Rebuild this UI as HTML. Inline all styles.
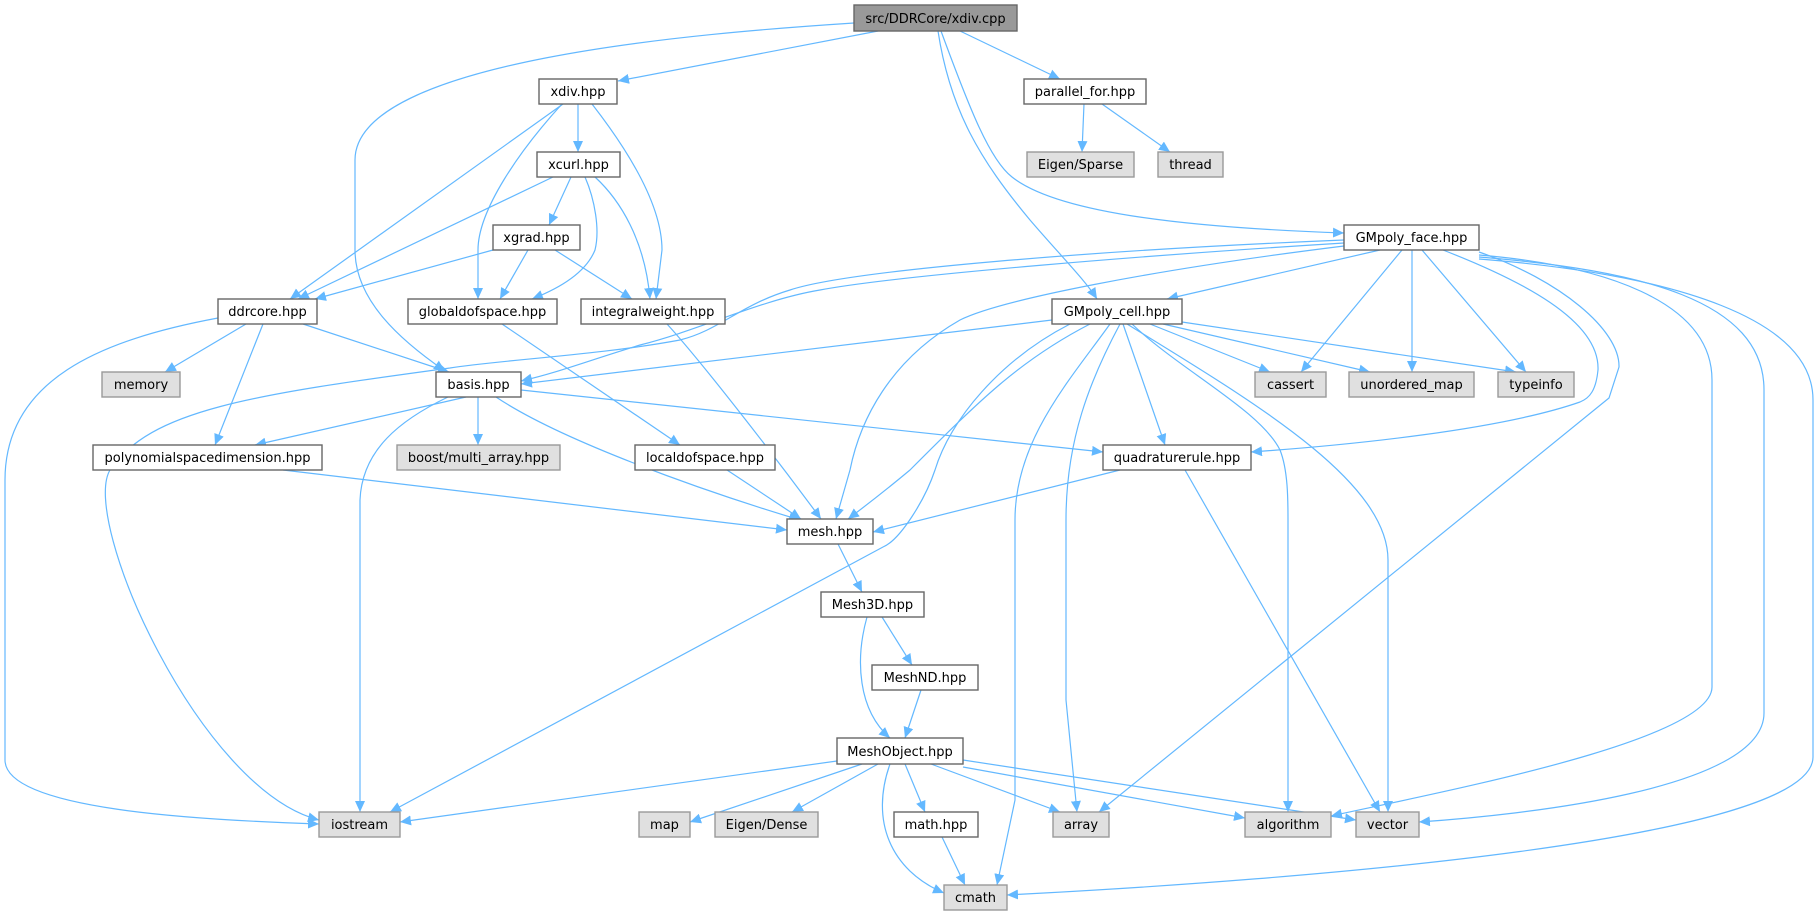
<!DOCTYPE html>
<html><head><meta charset="utf-8"><style>
html,body{margin:0;padding:0;background:#fff;}
svg{display:block;}
text{font-family:"DejaVu Sans","Liberation Sans",sans-serif;font-size:13px;fill:#000;text-anchor:middle;}
.n rect{fill:#fff;stroke:#666;stroke-width:1.4;}
.g rect{fill:#e0e0e0;stroke:#999;stroke-width:1.4;}
.r rect{fill:#999;stroke:#666;stroke-width:1.4;}
.e path{fill:none;stroke:#63b8ff;stroke-width:1.2;marker-end:url(#a);}
</style></head><body>
<svg width="1820" height="916" viewBox="0 0 1820 916" xmlns="http://www.w3.org/2000/svg">
<defs><marker id="a" markerUnits="userSpaceOnUse" markerWidth="12" markerHeight="10" refX="11" refY="5" orient="auto"><path d="M0,0 L11,5 L0,10 z" fill="#63b8ff"/></marker></defs>
<g class="e">
<path d="M854,23 C700,33 355,60 355,160 L355,250 C355,300 400,340 445,371"/>
<path d="M878,31 L618,81"/>
<path d="M960,31 L1060,79"/>
<path d="M938,31 C950,110 980,160 1030,220 C1060,255 1085,280 1097,299"/>
<path d="M941,31 C970,110 990,160 1012,177 C1060,215 1200,228 1344,233"/>
<path d="M578,104 L578,152"/>
<path d="M563,104 L290,299"/>
<path d="M562,104 C520,150 478,210 478,250 L478,299"/>
<path d="M592,104 C620,140 662,200 662,250 L656,299"/>
<path d="M571,177 L549,225"/>
<path d="M553,177 L298,299"/>
<path d="M585,177 C595,200 600,230 595,250 C585,275 555,290 532,299"/>
<path d="M595,177 C620,200 645,240 650,299"/>
<path d="M493,250 L315,299"/>
<path d="M528,250 L500,299"/>
<path d="M555,250 L632,299"/>
<path d="M246,324 L165,372"/>
<path d="M263,324 L215,445"/>
<path d="M303,324 L449,372"/>
<path d="M218,318 C100,340 5,380 5,480 L5,760 C5,810 200,820 319,824"/>
<path d="M502,324 L680,445"/>
<path d="M667,324 C700,360 770,450 821,519"/>
<path d="M466,397 L255,445"/>
<path d="M478,397 L478,445"/>
<path d="M448,397 C400,420 362,450 360,500 L360,812"/>
<path d="M496,397 C560,440 700,490 800,520"/>
<path d="M521,390 L1103,452"/>
<path d="M1380,250 L1167,299"/>
<path d="M1344,243 C1150,255 900,275 820,290 C760,300 700,330 640,345 C590,360 560,372 521,381"/>
<path d="M1344,240 C1100,250 850,270 790,290 C740,305 720,330 680,340 C600,355 500,360 450,368 C250,395 150,410 110,470 C80,520 200,790 319,820"/>
<path d="M1344,246 C1150,270 1000,300 960,320 C890,360 860,420 850,470 L836,519"/>
<path d="M1402,250 L1301,372"/>
<path d="M1412,250 L1412,372"/>
<path d="M1422,250 L1526,372"/>
<path d="M1443,250 C1520,280 1600,320 1598,370 C1596,390 1590,398 1580,402 C1500,430 1350,445 1251,452"/>
<path d="M1479,252 C1560,280 1620,330 1619,367 L1609,398 L1099,812"/>
<path d="M1479,255 C1600,265 1712,300 1712,380 L1712,687 C1712,740 1450,790 1331,816"/>
<path d="M1479,257 C1640,270 1764,300 1764,390 L1764,713 C1764,790 1520,815 1419,822"/>
<path d="M1479,259 C1680,275 1813,320 1813,400 L1813,757 C1813,840 1300,880 1007,895"/>
<path d="M1052,320 L521,384"/>
<path d="M1090,324 C1020,360 980,400 910,470 C880,495 860,510 848,519"/>
<path d="M1070,324 C1000,360 950,420 935,470 C925,500 900,540 883,547 L390,812"/>
<path d="M1110,324 C1070,380 1015,440 1015,520 L1015,800 L997,885"/>
<path d="M1120,324 C1090,380 1066,440 1066,520 L1066,700 L1077,812"/>
<path d="M1123,324 L1165,445"/>
<path d="M1132,324 C1180,370 1260,410 1280,450 C1288,470 1288,500 1288,520 L1288,812"/>
<path d="M1127,324 C1250,400 1388,480 1388,560 L1388,812"/>
<path d="M1150,324 L1270,372"/>
<path d="M1163,324 L1370,372"/>
<path d="M1182,322 L1516,372"/>
<path d="M1120,470 L873,532"/>
<path d="M1185,470 L1380,812"/>
<path d="M283,470 L787,530"/>
<path d="M727,470 L801,519"/>
<path d="M838,544 L862,592"/>
<path d="M882,617 L912,665"/>
<path d="M867,617 C855,660 858,710 890,738"/>
<path d="M921,690 L905,738"/>
<path d="M837,761 L400,822"/>
<path d="M862,764 L690,822"/>
<path d="M878,764 L792,812"/>
<path d="M905,764 L925,812"/>
<path d="M890,764 C870,820 890,870 944,893"/>
<path d="M931,764 L1060,812"/>
<path d="M963,767 L1245,818"/>
<path d="M963,760 L1356,820"/>
<path d="M942,837 L965,885"/>
<path d="M1084,104 L1082,152"/>
<path d="M1102,104 L1170,152"/>
</g>
<g class="r"><rect x="854" y="5" width="163" height="26"/><text x="935.5" y="23">src/DDRCore/xdiv.cpp</text></g>
<g class="n">
<rect x="539" y="79" width="78" height="25"/><text x="578" y="96">xdiv.hpp</text>
<rect x="1024" y="79" width="122" height="25"/><text x="1085" y="96">parallel_for.hpp</text>
<rect x="537" y="152" width="83" height="25"/><text x="578.5" y="169">xcurl.hpp</text>
<rect x="493" y="225" width="87" height="25"/><text x="536.5" y="242">xgrad.hpp</text>
<rect x="1344" y="225" width="135" height="25"/><text x="1411.5" y="242">GMpoly_face.hpp</text>
<rect x="218" y="299" width="99" height="25"/><text x="267.5" y="316">ddrcore.hpp</text>
<rect x="408" y="299" width="149" height="25"/><text x="482.5" y="316">globaldofspace.hpp</text>
<rect x="581" y="299" width="144" height="25"/><text x="653" y="316">integralweight.hpp</text>
<rect x="1052" y="299" width="130" height="25"/><text x="1117" y="316">GMpoly_cell.hpp</text>
<rect x="436" y="372" width="85" height="25"/><text x="478.5" y="389">basis.hpp</text>
<rect x="93" y="445" width="229" height="25"/><text x="207.5" y="462">polynomialspacedimension.hpp</text>
<rect x="635" y="445" width="140" height="25"/><text x="705" y="462">localdofspace.hpp</text>
<rect x="1103" y="445" width="148" height="25"/><text x="1177" y="462">quadraturerule.hpp</text>
<rect x="787" y="519" width="86" height="25"/><text x="830" y="536">mesh.hpp</text>
<rect x="821" y="592" width="103" height="25"/><text x="872.5" y="609">Mesh3D.hpp</text>
<rect x="872" y="665" width="106" height="25"/><text x="925" y="682">MeshND.hpp</text>
<rect x="837" y="738" width="126" height="26"/><text x="900" y="756">MeshObject.hpp</text>
<rect x="894" y="812" width="84" height="25"/><text x="936" y="829">math.hpp</text>
</g>
<g class="g">
<rect x="1027" y="152" width="107" height="25"/><text x="1080.5" y="169">Eigen/Sparse</text>
<rect x="1158" y="152" width="65" height="25"/><text x="1190.5" y="169">thread</text>
<rect x="102" y="372" width="78" height="25"/><text x="141" y="389">memory</text>
<rect x="1255" y="372" width="71" height="25"/><text x="1290.5" y="389">cassert</text>
<rect x="1349" y="372" width="125" height="25"/><text x="1411.5" y="389">unordered_map</text>
<rect x="1498" y="372" width="76" height="25"/><text x="1536" y="389">typeinfo</text>
<rect x="397" y="445" width="163" height="25"/><text x="478.5" y="462">boost/multi_array.hpp</text>
<rect x="319" y="812" width="81" height="25"/><text x="359.5" y="829">iostream</text>
<rect x="639" y="812" width="51" height="25"/><text x="664.5" y="829">map</text>
<rect x="715" y="812" width="103" height="25"/><text x="766.5" y="829">Eigen/Dense</text>
<rect x="1053" y="812" width="56" height="25"/><text x="1081" y="829">array</text>
<rect x="1245" y="812" width="86" height="25"/><text x="1288" y="829">algorithm</text>
<rect x="1356" y="812" width="63" height="25"/><text x="1387.5" y="829">vector</text>
<rect x="944" y="885" width="63" height="25"/><text x="975.5" y="902">cmath</text>
</g>
</svg>
</body></html>
